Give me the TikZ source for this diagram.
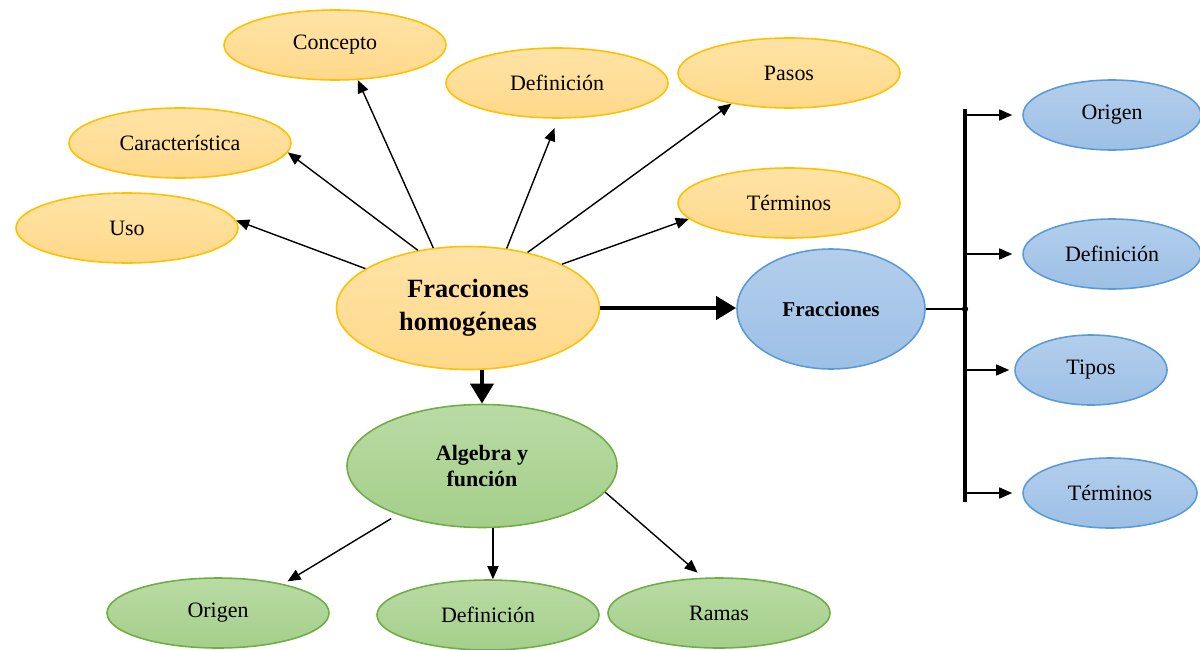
\documentclass[tikz,border=0pt]{standalone}
\usepackage{fontspec}
\setmainfont{Liberation Serif}
\usetikzlibrary{arrows.meta,shapes.geometric}

\definecolor{orfill}{HTML}{FFD98A}
\definecolor{ortop}{HTML}{FFE3A6}
\definecolor{orline}{HTML}{FFC000}
\definecolor{blfill}{HTML}{9DC0E6}
\definecolor{bltop}{HTML}{B3CEEC}
\definecolor{blline}{HTML}{5B9BD5}
\definecolor{grfill}{HTML}{A4CF8A}
\definecolor{grtop}{HTML}{B9DBA4}
\definecolor{grline}{HTML}{70AD47}

\begin{document}
\begin{tikzpicture}[
  bubble/.style={ellipse, inner sep=0pt, line width=0.9pt, align=center,
                 minimum width=4.44cm, minimum height=1.4cm,
                 font=\fontsize{12.5}{15}\selectfont},
  orange/.style={bubble, draw=orline, top color=ortop, bottom color=orfill},
  blue/.style={bubble, draw=blline, top color=bltop, bottom color=blfill},
  green/.style={bubble, draw=grline, top color=grtop, bottom color=grfill},
  link/.style={->, line width=0.8pt},
  bold/.style={line width=2.8pt, -{Triangle[length=4mm,width=4.5mm]}},
  >={Triangle[length=2.6mm,width=2.2mm]}
]
  \useasboundingbox (0,0) rectangle (24,12.98);

  \node[orange, minimum width=5.26cm, minimum height=2.46cm,
        font=\fontsize{15}{19}\selectfont\bfseries] (fh) at (9.36,6.82)
      {Fracciones\\homogéneas};

  \node[orange] (conc)  at (6.70,12.08) {Concepto};
  \node[orange] (defo)  at (11.14,11.32) {Definición};
  \node[orange] (pasos) at (15.78,11.52) {Pasos};
  \node[orange] (carac) at (3.60,10.12) {Característica};
  \node[orange] (termo) at (15.78,8.92) {Términos};
  \node[orange] (uso)   at (2.54,8.42) {Uso};

  \node[blue, minimum width=3.76cm, minimum height=2.4cm,
        font=\fontsize{12}{15}\selectfont\bfseries] (fr) at (16.62,6.80) {Fracciones};
  \node[blue, minimum width=3.56cm] (orb)   at (22.24,10.68) {Origen};
  \node[blue, minimum width=3.56cm] (defb)  at (22.24,7.90) {Definición};
  \node[blue, minimum width=3.04cm] (tipos) at (21.82,5.58) {Tipos};
  \node[blue, minimum width=3.48cm] (termb) at (22.20,3.12) {Términos};

  \node[green, minimum width=5.4cm, minimum height=2.46cm,
        font=\fontsize{12.5}{15}\selectfont\bfseries] (alg) at (9.64,3.66)
      {Algebra y\\función};
  \node[green] (org)   at (4.36,0.72) {Origen};
  \node[green] (defg)  at (9.76,0.68) {Definición};
  \node[green] (ramas) at (14.38,0.72) {Ramas};

  \draw[link] (fh.159) -- (uso.4);
  \draw[link] (fh.131) -- (carac.-5);
  \draw[link] (fh.120) -- (conc.-57);
  \draw[link, shorten >=2mm] (fh.57) -- (defo.-88);
  \draw[link] (fh.43) -- (pasos.-152);
  \draw[link] (fh.25) -- (termo.-171);

  \draw[bold] (fh.east) -- (fh.east -| fr.west);
  \draw[bold] (alg.north |- fh.south) -- (alg.north);

  \draw[link, shorten <=1.5mm, shorten >=1mm] (alg.-150) -- (org.24);
  \draw[link] (alg.-80) -- (alg.-80 |- defg.north);
  \draw[link, shorten >=1.5mm] (alg.-12) -- (ramas.114);

  \coordinate (bus) at (19.30,6.9);
  \draw[line width=0.8pt] (fr.east) -- (fr.east -| bus);
  \fill (fr.east -| bus) circle (1.8pt);
  \draw[line width=2pt] (bus |- orb) ++(0,0.12) -- ([yshift=-0.18cm]bus |- termb);
  \draw[link, shorten >=2mm] (bus |- orb) -- (orb.west);
  \draw[link, shorten >=2mm] (bus |- defb) -- (defb.west);
  \draw[link, shorten >=1mm] (bus |- tipos) -- (tipos.west);
  \draw[link, shorten >=2mm] (bus |- termb) -- (termb.west);
\end{tikzpicture}
\end{document}
